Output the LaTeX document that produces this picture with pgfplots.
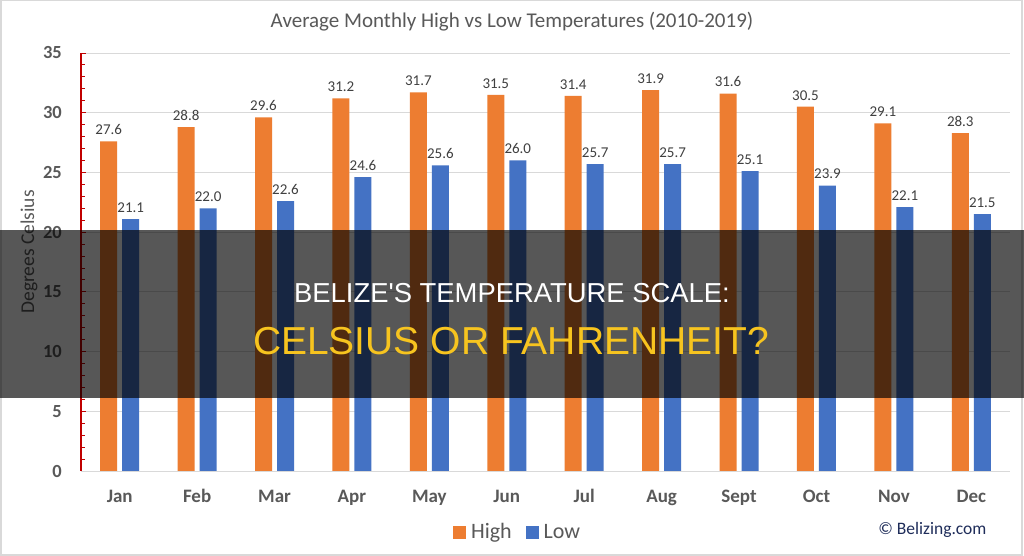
\documentclass[border=0pt]{standalone}
\usepackage{pgfplots}
\pgfplotsset{compat=1.18}
\usepackage{fontspec}
\setmainfont{Carlito}
\newfontfamily\overlayfont{Liberation Sans}
\definecolor{hiorange}{RGB}{237,125,49}
\definecolor{loblue}{RGB}{68,114,196}
\definecolor{txtgray}{RGB}{89,89,89}
\definecolor{lblgray}{RGB}{64,64,64}
\definecolor{gridgray}{RGB}{217,217,217}
\definecolor{axred}{RGB}{192,0,0}
\definecolor{navy}{RGB}{31,45,90}
\definecolor{ovyellow}{RGB}{247,196,31}
\begin{document}
\begin{tikzpicture}[x=1pt,y=1pt]
\useasboundingbox (0,0) rectangle (1024,556);
\fill[white] (0,0) rectangle (1024,556);
\begin{axis}[
  at={(81pt,85pt)}, anchor=south west,
  scale only axis, width=929pt, height=418pt,
  xmin=-0.5, xmax=11.5, ymin=0, ymax=35,
  ybar=5pt, bar width=17pt,
  xtick={0,...,11},
  xticklabels={Jan,Feb,Mar,Apr,May,Jun,Jul,Aug,Sept,Oct,Nov,Dec},
  ytick={0,5,...,35},
  minor y tick num=4,
  tick align=inside,
  major tick length=5pt, minor tick length=4pt,
  axis x line*=bottom, axis y line*=left,
  x axis line style={draw=gridgray,-},
  y axis line style={draw=axred,line width=1.1pt,-},
  ytick style={draw=axred, line width=0.9pt},
  minor y tick style={draw=axred, line width=0.9pt},
  xtick style={draw=none},
  ymajorgrids, major grid style={draw=gridgray, line width=0.8pt},
  /pgf/number format/assume math mode=true,
  yticklabel style={font=\fontsize{18.5}{20}\selectfont\bfseries, color=txtgray, anchor=east, inner sep=0pt, xshift=-19pt},
  xticklabel style={font=\fontsize{19}{20}\selectfont\bfseries, color=txtgray, anchor=base, inner sep=0pt, yshift=-31pt},
  nodes near coords,
  nodes near coords style={font=\fontsize{15}{16}\selectfont, color=lblgray, /pgf/number format/fixed, /pgf/number format/precision=1, /pgf/number format/fixed zerofill, /pgf/number format/assume math mode=true, yshift=3pt},
  clip=false,
  legend style={at={(0.470,-0.146)}, anchor=center, draw=none, fill=none, legend columns=2,
    font=\fontsize{22}{24}\selectfont, text=txtgray,
    /tikz/every even column/.append style={column sep=12pt}},
  legend image code/.code={\fill[#1,draw=none] (0pt,-6.5pt) rectangle (13pt,6.5pt);},
]
\addplot[fill=hiorange, draw=none] coordinates {(0,27.6) (1,28.8) (2,29.6) (3,31.2) (4,31.7) (5,31.5) (6,31.4) (7,31.9) (8,31.6) (9,30.5) (10,29.1) (11,28.3)};
\addplot[fill=loblue, draw=none] coordinates {(0,21.1) (1,22.0) (2,22.6) (3,24.6) (4,25.6) (5,26.0) (6,25.7) (7,25.7) (8,25.1) (9,23.9) (10,22.1) (11,21.5)};
\legend{\hspace{3pt}High,\hspace{3pt}Low}
\end{axis}
\node[font=\fontsize{21}{24}\selectfont, text=txtgray] at (512,534) {Average Monthly High vs Low Temperatures (2010-2019)};
\node[rotate=90, font=\fontsize{19.5}{22}\selectfont, text=txtgray] at (29,304) {Degrees Celsius};
\node[font=\fontsize{17.5}{20}\selectfont, text=navy, anchor=east] at (990,26) {\textcopyright\ Belizing.com};
\draw[gridgray, line width=1.5pt] (0.75,0.75) rectangle (1022,555.25);
\fill[black, opacity=0.66] (0,158) rectangle (1024,326);
\node[font=\overlayfont\fontsize{27.4}{30}\selectfont, text=white, anchor=base] at (512,253) {BELIZE'S TEMPERATURE SCALE:};
\node[font=\overlayfont\fontsize{39}{42}\selectfont, text=ovyellow, anchor=base] at (511,201) {CELSIUS OR FAHRENHEIT?};
\end{tikzpicture}
\end{document}
